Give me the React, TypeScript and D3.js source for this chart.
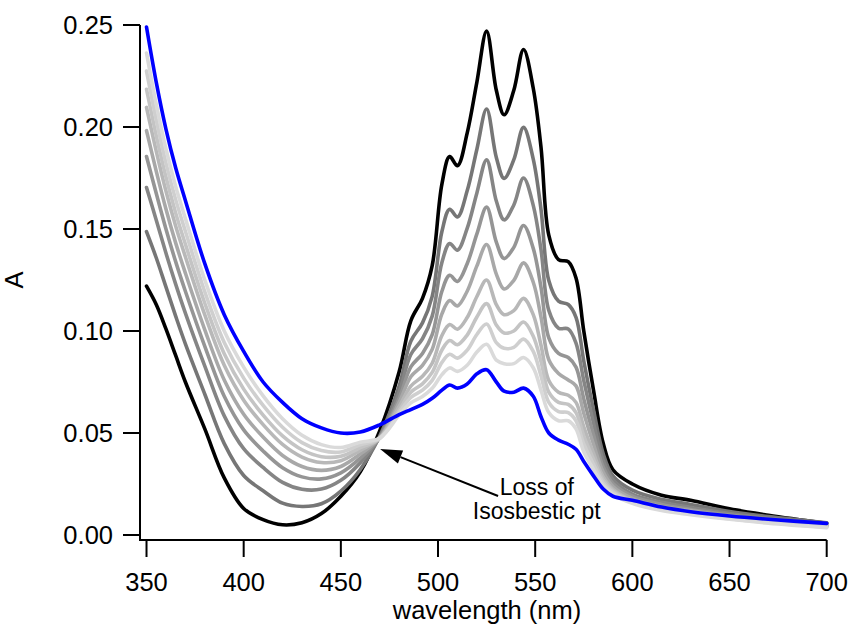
import React from "react";
import * as d3 from "d3";

const wavelengths = [350,355,360,365,370,380,390,400,410,420,430,440,450,460,470,480,486,492,497,502,506,510,515,520,525,530,534,539,544,549,553,557,562,567,571,575,580,585,590,600,615,630,650,670,700];

const sBlack = [0.122,0.113,0.101,0.088,0.075,0.052,0.028,0.013,0.0075,0.005,0.006,0.0105,0.019,0.031,0.051,0.080,0.105,0.116,0.132,0.172,0.1855,0.181,0.197,0.222,0.247,0.218,0.206,0.218,0.238,0.219,0.190,0.147,0.135,0.134,0.126,0.100,0.071,0.045,0.032,0.025,0.0195,0.017,0.0128,0.0097,0.0057];
const sGray1 = [0.1487,0.1359,0.1216,0.1073,0.0937,0.069,0.0448,0.0292,0.0217,0.0156,0.0140,0.0153,0.0215,0.0321,0.0485,0.073,0.095,0.104,0.117,0.1488,0.1597,0.1559,0.1687,0.1891,0.2088,0.1851,0.1748,0.184,0.1998,0.1843,0.1596,0.1247,0.1146,0.113,0.1067,0.0853,0.0613,0.0398,0.029,0.022,0.0175,0.015,0.0115,0.009,0.006];
const sGray2 = [0.1703,0.1544,0.1382,0.1230,0.1088,0.0828,0.0584,0.0423,0.0331,0.0258,0.0224,0.0225,0.0268,0.0354,0.048,0.070,0.0885,0.0962,0.1073,0.1336,0.1429,0.1396,0.1503,0.1677,0.1839,0.1637,0.1545,0.1618,0.175,0.1616,0.1398,0.1101,0.1014,0.101,0.0941,0.0757,0.055,0.0365,0.0271,0.020,0.016,0.0135,0.0105,0.0082,0.0053];
const sGray3 = [0.1855,0.1675,0.150,0.134,0.1195,0.0925,0.068,0.0515,0.0412,0.033,0.0285,0.0275,0.0305,0.0377,0.0478,0.067,0.0824,0.089,0.0982,0.1195,0.1273,0.1243,0.133,0.1476,0.1607,0.1436,0.1355,0.141,0.1517,0.1405,0.1214,0.0966,0.089,0.087,0.0823,0.0667,0.0492,0.0333,0.0252,0.019,0.015,0.0125,0.0098,0.0076,0.0048];
const sGray4 = [0.1982,0.1784,0.1598,0.1432,0.1284,0.1006,0.076,0.0592,0.048,0.039,0.0336,0.0317,0.0336,0.0397,0.0476,0.065,0.0776,0.0832,0.091,0.1084,0.1149,0.1123,0.1195,0.1319,0.1424,0.1279,0.1206,0.1248,0.1334,0.1239,0.1068,0.0859,0.0792,0.076,0.0731,0.0597,0.0445,0.0308,0.0238,0.018,0.014,0.012,0.0092,0.0071,0.0045];
const sGray5 = [0.2096,0.1882,0.1686,0.1515,0.1364,0.1079,0.0832,0.0661,0.0541,0.0444,0.0382,0.0355,0.0364,0.0415,0.0475,0.063,0.073,0.0778,0.0842,0.0978,0.1032,0.1009,0.1066,0.1169,0.125,0.1129,0.108,0.110,0.116,0.108,0.093,0.0757,0.070,0.0685,0.065,0.053,0.0401,0.0285,0.0224,0.017,0.0135,0.0115,0.0088,0.0067,0.0042];
const sGray6 = [0.2185,0.1958,0.1755,0.1579,0.1426,0.1136,0.0888,0.0715,0.0588,0.0486,0.0418,0.0384,0.0386,0.0428,0.0474,0.0612,0.070,0.0741,0.0797,0.0907,0.0953,0.0933,0.098,0.1069,0.1134,0.1029,0.099,0.100,0.1044,0.0974,0.085,0.070,0.065,0.064,0.060,0.0485,0.0372,0.0269,0.0215,0.0165,0.013,0.011,0.0084,0.0064,0.004];
const sGray7 = [0.2274,0.2035,0.1823,0.1644,0.1489,0.1192,0.0944,0.0769,0.0635,0.0528,0.0453,0.0414,0.0407,0.0442,0.0474,0.060,0.0674,0.071,0.0758,0.0846,0.0886,0.0867,0.0906,0.0983,0.1034,0.0943,0.0915,0.092,0.096,0.090,0.078,0.065,0.0605,0.060,0.056,0.0446,0.0347,0.0255,0.0208,0.016,0.0125,0.0105,0.008,0.0061,0.0038];
const sGray8 = [0.2363,0.2111,0.1892,0.1708,0.1551,0.1249,0.100,0.0823,0.0682,0.057,0.0489,0.0443,0.0429,0.0455,0.0475,0.0588,0.0648,0.0679,0.0719,0.0786,0.0819,0.0802,0.0832,0.0897,0.0935,0.0857,0.084,0.084,0.087,0.082,0.071,0.060,0.056,0.056,0.052,0.0408,0.0322,0.0242,0.020,0.0155,0.012,0.010,0.0077,0.0058,0.0036];
const sBlue = [0.249,0.222,0.199,0.180,0.164,0.133,0.108,0.090,0.075,0.065,0.057,0.0525,0.050,0.0505,0.054,0.059,0.0615,0.064,0.067,0.071,0.0735,0.072,0.074,0.079,0.081,0.075,0.0705,0.070,0.072,0.068,0.058,0.050,0.0465,0.0445,0.042,0.036,0.029,0.0225,0.019,0.017,0.0137,0.0114,0.0093,0.0077,0.0057];

const seriesList = [sBlack, sGray1, sGray2, sGray3, sGray4, sGray5, sGray6, sGray7, sGray8, sBlue];
const seriesColors = ["#000000","#767676","#858585","#959595","#a8a8a8","#b8b8b8","#c4c4c4","#cfcfcf","#dadada","#0000ff"];

const xTicks = [350, 400, 450, 500, 550, 600, 650, 700];
const yTicks = [0.0, 0.05, 0.1, 0.15, 0.2, 0.25];

// annotation (data coordinates)
const arrowTip = [470.2, 0.0422];
const arrowTail = [530.9, 0.0191];
const noteLines = ["Loss of", "Isosbestic pt"];
const noteAnchor = [550.8, 0.0195];

export default function App() {
  const W = 851, H = 631;
  const left = 140, bottom = 540, top = 25, right = 826.7;
  const x = d3.scaleLinear().domain([346.65, 700]).range([left, right]);
  const y = d3.scaleLinear().domain([-0.00245, 0.25]).range([bottom, top]);
  const line = d3
    .line<number>()
    .x((_, i) => x(wavelengths[i]))
    .y((d) => y(d))
    .curve(d3.curveCatmullRom.alpha(0.5));

  const font = "'Liberation Sans', Arial, sans-serif";
  const tx = x(arrowTip[0]), ty = y(arrowTip[1]);
  const sx = x(arrowTail[0]), sy = y(arrowTail[1]);
  const ang = Math.atan2(sy - ty, sx - tx);
  const headLen = 22, headW = 7;
  const bx = tx + headLen * Math.cos(ang), by = ty + headLen * Math.sin(ang);
  const px = -Math.sin(ang) * headW, py = Math.cos(ang) * headW;

  return (
    <svg width={W} height={H} style={{ position: "absolute", left: 0, top: 0, background: "#fff" }} fontFamily={font}>
      <rect width={W} height={H} fill="#fff" />
      <g fill="none" strokeLinejoin="round" strokeLinecap="round">
        {seriesList.map((s, i) => (
          <path key={i} d={line(s) || ""} stroke={seriesColors[i]} strokeWidth={3.6} />
        ))}
      </g>
      {/* axes */}
      <line x1={left} x2={left} y1={top} y2={bottom + 1} stroke="#000" strokeWidth={2} />
      <line x1={left - 1} x2={right} y1={bottom} y2={bottom} stroke="#000" strokeWidth={2} />
      {yTicks.map((t) => (
        <g key={t}>
          <line x1={left - 17} x2={left} y1={y(t)} y2={y(t)} stroke="#000" strokeWidth={2} />
          <text x={left - 27} y={y(t)} dy="0.36em" textAnchor="end" fontSize={25.5}>
            {t.toFixed(2)}
          </text>
        </g>
      ))}
      {xTicks.map((t) => (
        <g key={t}>
          <line x1={x(t)} x2={x(t)} y1={bottom} y2={bottom + 17} stroke="#000" strokeWidth={2} />
          <text x={x(t)} y={591} textAnchor="middle" fontSize={25.5}>
            {t}
          </text>
        </g>
      ))}
      <text x={487} y={619} textAnchor="middle" fontSize={25.5}>wavelength (nm)</text>
      <text transform={`translate(23,280) rotate(-90)`} textAnchor="middle" fontSize={25.5}>A</text>
      {/* annotation */}
      <line x1={sx} y1={sy} x2={bx} y2={by} stroke="#000" strokeWidth={2} />
      <polygon points={`${tx},${ty} ${bx + px},${by + py} ${bx - px},${by - py}`} fill="#000" />
      {noteLines.map((t, i) => (
        <text key={i} x={x(noteAnchor[0])} y={y(noteAnchor[1]) + i * 24} textAnchor="middle" fontSize={23}>
          {t}
        </text>
      ))}
    </svg>
  );
}
